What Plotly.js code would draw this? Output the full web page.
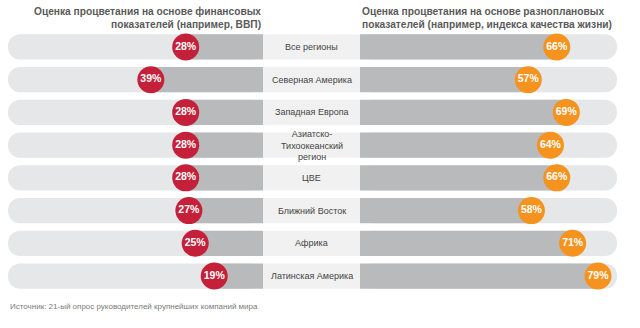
<!DOCTYPE html>
<html>
<head>
<meta charset="utf-8">
<script src="https://cdn.plot.ly/plotly-3.0.1.min.js"></script>
<style>html,body{margin:0;padding:0;background:#fff;}#chart{width:640px;height:328px;}</style>
</head>
<body>
<div id="chart"></div>
<script>
// ---- data ----
const categories = ["Все регионы","Северная Америка","Западная Европа","Азиатско-Тихоокеанский регион","ЦВЕ","Ближний Восток","Африка","Латинская Америка"];
const categoryLabels = ["Все регионы","Северная Америка","Западная Европа","Азиатско-<br>Тихоокеанский<br>регион","ЦВЕ","Ближний Восток","Африка","Латинская Америка"];
const financialValues = [28,39,28,28,28,27,25,19];
const broadValues = [66,57,69,64,66,58,71,79];
const leftTitle = "Оценка процветания на основе финансовых<br>показателей (например, ВВП)";
const rightTitle = "Оценка процветания на основе разноплановых<br>показателей (например, индекса качества жизни)";
const sourceText = "Источник: 21-ый опрос руководителей крупнейших компаний мира";

// ---- styling / geometry ----
const W = 640, H = 328;
const LEFT_RANGE = [84.1, 3.6];
const RIGHT_RANGE = [3.9, 85.0];
const LIGHT = "#e6e7e8", DARK = "#b9babc", MID = "#f1f1f1";
const RED = "#c4203a", ORANGE = "#f6921e";
const FONT = "Liberation Sans, Arial, sans-serif";
const BW = 0.77;

const fill = (v) => categories.map(() => v);

const traces = [
  // left track
  {type:"bar", orientation:"h", y:categories, x:fill(LEFT_RANGE[0]-LEFT_RANGE[1]), base:fill(LEFT_RANGE[1]),
   width:BW, marker:{color:LIGHT, cornerradius:13}, xaxis:"x", yaxis:"y", hoverinfo:"skip"},
  // left value bar
  {type:"bar", orientation:"h", y:categories, x:financialValues.map(v => v - LEFT_RANGE[1]), base:fill(LEFT_RANGE[1]),
   width:BW, marker:{color:DARK}, xaxis:"x", yaxis:"y", hoverinfo:"skip"},
  // middle label box
  {type:"bar", orientation:"h", y:categories, x:fill(1), width:BW, marker:{color:MID},
   xaxis:"x3", yaxis:"y", hoverinfo:"skip"},
  // right track
  {type:"bar", orientation:"h", y:categories, x:fill(RIGHT_RANGE[1]-RIGHT_RANGE[0]), base:fill(RIGHT_RANGE[0]),
   width:BW, marker:{color:LIGHT, cornerradius:13}, xaxis:"x2", yaxis:"y", hoverinfo:"skip"},
  // right value bar
  {type:"bar", orientation:"h", y:categories, x:broadValues.map(v => v - RIGHT_RANGE[0]), base:fill(RIGHT_RANGE[0]),
   width:BW, marker:{color:DARK}, xaxis:"x2", yaxis:"y", hoverinfo:"skip"},
  // left circles
  {type:"scatter", mode:"markers+text", x:financialValues, y:categories,
   text:financialValues.map(v => v + "%"), textposition:"middle center",
   textfont:{family:FONT, size:10.5, color:"#ffffff", weight:"bold"},
   marker:{size:27, color:RED, line:{width:0}}, cliponaxis:false, xaxis:"x", yaxis:"y", hoverinfo:"skip"},
  // right circles
  {type:"scatter", mode:"markers+text", x:broadValues, y:categories,
   text:broadValues.map(v => v + "%"), textposition:"middle center",
   textfont:{family:FONT, size:10.5, color:"#ffffff", weight:"bold"},
   marker:{size:27, color:ORANGE, line:{width:0}}, cliponaxis:false, xaxis:"x2", yaxis:"y", hoverinfo:"skip"}
];

const annotations = categoryLabels.map((lab, i) => ({
  text: lab, x: 0.5, xref: "x3", y: categories[i], yref: "y",
  showarrow: false, xanchor: "center", yanchor: "middle", align: "center",
  font: {family: FONT, size: 9, color: "#444444"}
}));
annotations.push(
  {text: leftTitle, xref:"paper", yref:"paper", x:263/W, y:1-4/H, xanchor:"right", yanchor:"top", align:"right",
   showarrow:false, font:{family:FONT, size:10.2, color:"#5a5a5a", weight:"bold"}},
  {text: rightTitle, xref:"paper", yref:"paper", x:360/W, y:1-4/H, xanchor:"left", yanchor:"top", align:"left",
   showarrow:false, font:{family:FONT, size:10.2, color:"#5a5a5a", weight:"bold"}},
  {text: sourceText, xref:"paper", yref:"paper", x:8/W, y:1-306/H, xanchor:"left", yanchor:"middle", align:"left",
   showarrow:false, font:{family:FONT, size:8, color:"#7a7a7a"}}
);

const hidden = {visible:false, showgrid:false, zeroline:false, fixedrange:true};
const layout = {
  width: W, height: H,
  margin: {l:0, r:0, t:0, b:0},
  paper_bgcolor: "#ffffff", plot_bgcolor: "rgba(0,0,0,0)",
  showlegend: false, barmode: "overlay",
  xaxis: Object.assign({}, hidden, {domain:[8/W, 263/W], range:LEFT_RANGE, anchor:"y"}),
  xaxis3: Object.assign({}, hidden, {domain:[263/W, 360/W], range:[0,1], anchor:"y"}),
  xaxis2: Object.assign({}, hidden, {domain:[360/W, 617/W], range:RIGHT_RANGE, anchor:"y"}),
  yaxis: Object.assign({}, hidden, {type:"category", domain:[1-292.4/H, 1-30.6/H], range:[categories.length-0.5, -0.5]}),
  annotations: annotations
};

Plotly.newPlot("chart", traces, layout, {staticPlot:true, displayModeBar:false});
</script>
</body>
</html>
